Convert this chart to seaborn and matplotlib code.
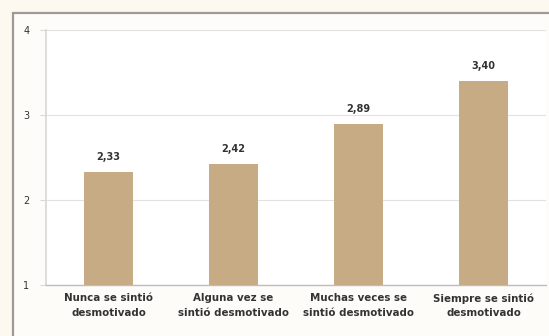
import matplotlib
matplotlib.use("Agg")
import matplotlib.pyplot as plt
from matplotlib.patches import Rectangle
import seaborn as sns
import pandas as pd

categories = [
    "Nunca se sintió\ndesmotivado",
    "Alguna vez se\nsintió desmotivado",
    "Muchas veces se\nsintió desmotivado",
    "Siempre se sintió\ndesmotivado",
]
values = [2.33, 2.42, 2.89, 3.40]
value_labels = ["2,33", "2,42", "2,89", "3,40"]
y_ticks = [1, 2, 3, 4]

df = pd.DataFrame({"categoria": categories, "valor": values})

sns.set_theme(style="white")
plt.rcParams["font.family"] = ["DejaVu Sans"]

W, H, DPI = 549, 336, 100
fig = plt.figure(figsize=(W / DPI, H / DPI), dpi=DPI, facecolor="#fdf9f1")

# outer chart frame, kept behind the axes
frame = Rectangle((13 / W, -0.1), 1.2, (H - 13) / H + 0.1,
                  transform=fig.transFigure, facecolor="#fdfcf9",
                  edgecolor="#a09a94", linewidth=1.6, zorder=-10)
fig.patches.append(frame)

ax = fig.add_axes([46 / W, (H - 285) / H, (546 - 46) / W, (285 - 30) / H])
ax.set_facecolor("white")
ax.set_zorder(1)

sns.barplot(data=df, x="categoria", y="valor", color="#c6ab84",
            saturation=1, width=0.39, ax=ax, zorder=3)
for p in ax.patches:
    p.set_edgecolor("none")

ax.set_ylim(1, 4)
ax.set_xlim(-0.5, len(categories) - 0.5)
ax.set_yticks(y_ticks)
ax.set_yticklabels([str(t) for t in y_ticks], fontsize=7, color="#333333")
ax.yaxis.grid(True, color="#e2e2e2", linewidth=0.8)
ax.set_axisbelow(True)

for s in ["top", "right"]:
    ax.spines[s].set_visible(False)
ax.spines["left"].set_color("#d8d8d8")
ax.spines["bottom"].set_color("#bdbdbd")
ax.spines["bottom"].set_linewidth(1.0)

ax.tick_params(axis="y", length=4, width=0.8, color="#d8d8d8", pad=8, left=True)
ax.tick_params(axis="x", length=0, pad=6)
ax.set_xticks(range(len(categories)))
ax.set_xticklabels(categories, fontsize=7.4, fontweight="bold",
                   color="#333333", linespacing=1.55)
ax.set_xlabel("")
ax.set_ylabel("")

for i, (v, lab) in enumerate(zip(values, value_labels)):
    ax.annotate(lab, (i, v), xytext=(0, 7.5), textcoords="offset points",
                ha="center", va="bottom", fontsize=7, fontweight="bold",
                color="#333333")

fig.savefig("out.png", dpi=DPI, facecolor=fig.get_facecolor())
